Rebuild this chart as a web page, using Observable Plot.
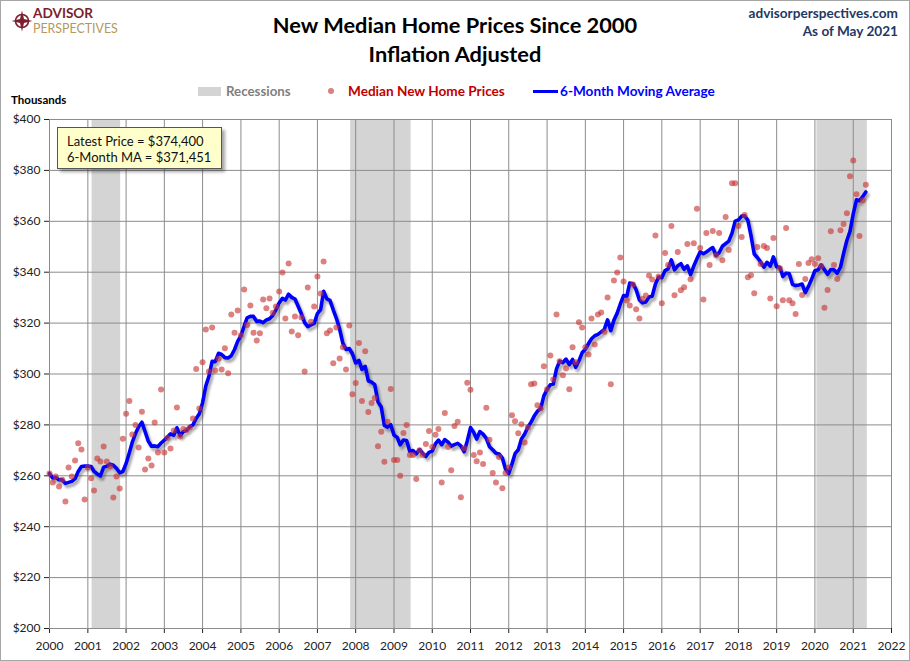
<!DOCTYPE html>
<html>
<head>
<meta charset="utf-8">
<script src="https://cdn.jsdelivr.net/npm/d3@7"></script>
<script src="https://cdn.jsdelivr.net/npm/@observablehq/plot@0.6"></script>
<style>
  body { margin: 0; background: #fff; font-family: Lato, "Open Sans", sans-serif; }
  #wrap { position: relative; width: 910px; height: 661px; overflow: hidden; background: #fff; }
  .abs { position: absolute; white-space: nowrap; line-height: 1; }
  #frame { position: absolute; left: 0; top: 0; width: 910px; height: 661px; box-sizing: border-box; border: 1px solid #a6a6a6; pointer-events: none; }
  #chart { position: absolute; left: 0; top: 105px; }
  #note { position: absolute; left: 57px; top: 127px; width: 165px; height: 42px; background: #ffffcc; border: 1px solid #555; box-shadow: 3px 3px 3px rgba(0,0,0,0.35); font-size: 13px; color: #111; line-height: 16px; padding: 5px 0 0 9px; box-sizing: border-box; }
</style>
</head>
<body>
<div id="wrap">
  <svg class="abs" style="left:11px;top:10px" width="22" height="22" viewBox="-11 -11 22 22">
    <circle r="6.5" fill="none" stroke="#7b1e2e" stroke-width="1.6"/>
    <path d="M0,-10.5 L2,-2 L10.5,0 L2,2 L0,10.5 L-2,2 L-10.5,0 L-2,-2Z" fill="#7b1e2e"/>
  </svg>
  <div class="abs" style="left:33px;top:5px;line-height:1.2;font-size:13.6px;font-weight:700;color:#7b1e2e;letter-spacing:0px">ADVISOR</div>
  <div class="abs" style="left:33px;top:21.8px;line-height:1.2;font-size:12.4px;font-weight:400;color:#b5985a;letter-spacing:0px">PERSPECTIVES</div>

  <div class="abs" style="left:0;width:910px;text-align:center;top:14px;font-size:21.8px;font-weight:700;color:#000">New Median Home Prices Since 2000</div>
  <div class="abs" style="left:0;width:910px;text-align:center;top:43px;font-size:21.8px;font-weight:700;color:#000">Inflation Adjusted</div>

  <div class="abs" style="right:12px;top:7px;font-size:13.6px;font-weight:700;color:#1f3864;text-align:right">advisorperspectives.com</div>
  <div class="abs" style="right:12px;top:25px;font-size:13.6px;font-weight:700;color:#1f3864;text-align:right">As of May 2021</div>

  <div class="abs" style="left:198px;top:87px;width:23px;height:9px;background:#d4d4d4"></div>
  <div class="abs" style="left:226px;top:85px;font-size:13.3px;font-weight:700;color:#7f7f7f">Recessions</div>
  <div class="abs" style="left:328px;top:88px;width:6px;height:6px;border-radius:3px;background:#dc7f7f"></div>
  <div class="abs" style="left:348px;top:85px;font-size:13.6px;font-weight:700;color:#c00000">Median New Home Prices</div>
  <div class="abs" style="left:533px;top:89.5px;width:25px;height:3px;background:#0000ff"></div>
  <div class="abs" style="left:560px;top:85px;font-size:13.6px;font-weight:700;color:#0000ff">6-Month Moving Average</div>

  <div class="abs" style="left:11px;top:94px;font-size:11.5px;font-weight:700;color:#000">Thousands</div>

  <div id="chart"></div>
  <div id="note">Latest Price = $374,400<br>6-Month MA = $371,451</div>
  <div id="frame"></div>
</div>
<script>
// Median new home prices, inflation adjusted (thousands of dollars), monthly Jan..Dec
const prices2000 = [260.9, 257.4, 259.7, 255.8, 258.4, 249.9, 263.3, 259.7, 266.0, 272.8, 270.3, 250.7];
const prices2001 = [263.3, 259.0, 254.2, 266.8, 265.6, 271.5, 265.6, 263.8, 251.5, 259.7, 255.0, 274.6];
const prices2002 = [284.4, 289.4, 276.2, 280.0, 271.1, 285.2, 262.5, 266.8, 264.0, 280.9, 269.2, 293.9];
const prices2003 = [269.2, 274.9, 270.7, 277.8, 286.8, 275.4, 278.4, 278.0, 279.0, 282.5, 302.0, 286.4];
const prices2004 = [304.6, 317.5, 301.0, 318.3, 301.4, 306.0, 301.8, 310.1, 300.3, 323.4, 316.2, 325.0];
const prices2005 = [315.2, 333.2, 319.3, 326.9, 316.2, 313.2, 316.0, 329.3, 325.8, 329.7, 324.1, 326.5];
const prices2006 = [332.4, 339.9, 321.8, 343.4, 316.7, 322.6, 315.2, 322.2, 301.0, 334.0, 320.5, 326.5];
const prices2007 = [338.3, 331.6, 344.2, 316.0, 317.1, 304.2, 318.3, 306.1, 310.5, 301.8, 319.1, 292.0];
const prices2008 = [296.5, 312.2, 289.4, 308.9, 285.1, 288.6, 290.6, 271.6, 277.3, 265.5, 281.2, 294.1];
const prices2009 = [266.2, 266.2, 260.0, 276.8, 280.0, 268.2, 268.2, 258.7, 270.0, 268.2, 272.5, 277.6];
const prices2010 = [271.3, 276.1, 278.4, 257.4, 284.7, 271.3, 262.2, 279.6, 281.2, 251.6, 270.8, 296.6];
const prices2011 = [293.8, 268.2, 265.7, 269.2, 264.6, 286.7, 274.2, 261.1, 257.4, 267.4, 255.1, 261.1];
const prices2012 = [263.3, 283.8, 281.4, 276.7, 280.3, 273.1, 279.0, 296.0, 296.3, 287.7, 286.4, 303.0];
const prices2013 = [294.0, 307.3, 297.8, 323.4, 305.0, 299.5, 302.2, 294.0, 310.5, 304.6, 320.3, 318.3];
const prices2014 = [310.5, 307.7, 321.8, 311.6, 323.4, 324.2, 316.6, 330.1, 296.0, 336.7, 339.9, 345.8];
const prices2015 = [336.3, 328.9, 326.9, 335.2, 325.4, 321.8, 329.5, 330.8, 338.7, 337.1, 354.4, 338.3];
const prices2016 = [327.8, 347.5, 342.8, 358.2, 330.9, 347.9, 332.9, 334.1, 351.1, 337.2, 351.4, 364.9];
const prices2017 = [349.5, 329.3, 355.4, 342.8, 356.2, 346.7, 355.4, 344.7, 361.7, 348.7, 375.0, 375.0];
const prices2018 = [358.2, 353.8, 362.5, 338.0, 338.8, 331.7, 349.9, 343.2, 350.3, 349.5, 329.7, 353.4];
const prices2019 = [326.6, 341.6, 329.0, 357.4, 329.0, 327.8, 323.6, 343.2, 331.0, 337.3, 343.6, 345.1];
const prices2020 = [343.2, 345.5, 342.4, 326.0, 333.0, 356.1, 342.8, 337.3, 356.5, 358.9, 363.2, 377.7];
const prices2021 = [383.9, 370.6, 354.2, 368.3, 374.4];

const recessionStart = ["2001-02-10", "2007-11-14", "2020-01-20"];
const recessionEnd   = ["2001-11-10", "2009-06-13", "2021-05-15"];

const yTicks = [200, 220, 240, 260, 280, 300, 320, 340, 360, 380, 400];
const xTickYears = [2000, 2001, 2002, 2003, 2004, 2005, 2006, 2007, 2008, 2009, 2010, 2011,
                    2012, 2013, 2014, 2015, 2016, 2017, 2018, 2019, 2020, 2021, 2022];

const byYear = [prices2000, prices2001, prices2002, prices2003, prices2004, prices2005,
  prices2006, prices2007, prices2008, prices2009, prices2010, prices2011, prices2012,
  prices2013, prices2014, prices2015, prices2016, prices2017, prices2018, prices2019,
  prices2020, prices2021];

const data = byYear.flatMap((arr, yi) => arr.map((p, m) => ({date: new Date(Date.UTC(2000 + yi, m, 1)), price: p})));
const recessions = recessionStart.map((s, i) => ({start: new Date(s + "T00:00:00Z"), end: new Date(recessionEnd[i] + "T00:00:00Z")}));
const xTickDates = xTickYears.map(y => new Date(Date.UTC(y, 0, 1)));

const ma = {k: 6, anchor: "end", reduce: "mean", strict: false};

const chart = Plot.plot({
  width: 910,
  height: 556,
  marginTop: 14,
  marginBottom: 33,
  marginLeft: 49,
  marginRight: 19,
  style: {fontFamily: "Lato, 'Open Sans', sans-serif", fontSize: "12px", color: "#222", background: "transparent", overflow: "visible"},
  x: {type: "utc", domain: [xTickDates[0], xTickDates[xTickDates.length - 1]], ticks: xTickDates, tickFormat: d3.utcFormat("%Y"), tickSize: 5, tickPadding: 8, label: null},
  y: {domain: [200, 400], ticks: yTicks, tickFormat: d => "$" + d, tickSize: 5, tickPadding: 4, label: null},
  marks: [
    Plot.rect(recessions, {x1: "start", x2: "end", y1: 200, y2: 400, fill: "#d4d4d4"}),
    Plot.ruleX(xTickDates, {stroke: "#8c8c8c", strokeWidth: 1}),
    Plot.ruleY(yTicks, {stroke: "#8c8c8c", strokeWidth: 1}),
    Plot.line(data, Plot.windowY(ma, {x: "date", y: "price", stroke: "#333", strokeOpacity: 0.4, strokeWidth: 4, dx: 2, dy: 3})),
    Plot.line(data, Plot.windowY(ma, {x: "date", y: "price", stroke: "#0000ff", strokeWidth: 3.6})),
    Plot.dot(data, {x: "date", y: "price", r: 3, fill: "#c83232", fillOpacity: 0.62})
  ]
});
document.getElementById("chart").appendChild(chart);
const lines = chart.querySelectorAll('g[aria-label="line"]');
if (lines.length) lines[0].style.filter = "blur(1.2px)";
</script>
</body>
</html>
